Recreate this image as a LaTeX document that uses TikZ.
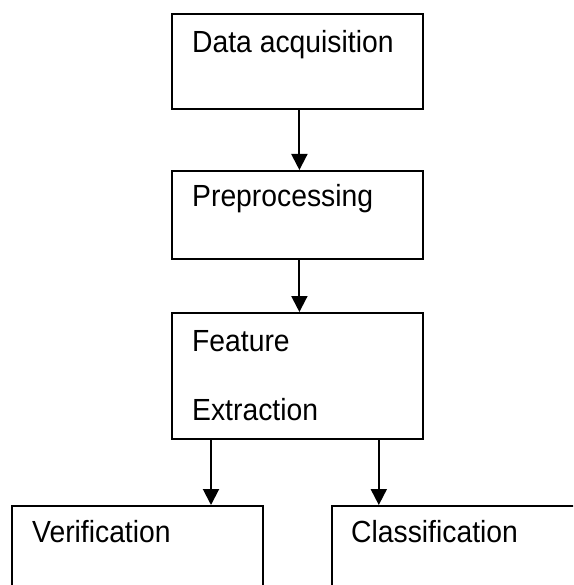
\documentclass[tikz,border=0pt]{standalone}
\usepackage{fontspec}
\usepackage{graphicx}
\setmainfont{Liberation Sans}
\usetikzlibrary{arrows.meta}
% slightly tall lettering for the stage names
\newcommand{\stagetext}[1]{\scalebox{1}[1.08]{#1}}
\begin{document}
\begin{tikzpicture}[x=1pt,y=-1pt,
  stagebox/.style={draw=black, line width=1.8pt, rectangle, anchor=north west,
    inner sep=0pt, minimum width=251pt},
  lbl/.style={anchor=base west, inner sep=0pt, font=\fontsize{28.3}{34}\selectfont},
  arr/.style={line width=2pt, -{Triangle[length=16pt,width=16pt]}}]
  \useasboundingbox (0,0) rectangle (573,585);
  \clip (0,0) rectangle (573,585);
  % processing stages
  \node[stagebox, minimum height=95pt]  (da)  at (171,13)  {};
  \node[stagebox, minimum height=88pt]  (pp)  at (171,170) {};
  \node[stagebox, minimum height=126pt] (fe)  at (171,312) {};
  \node[stagebox, minimum height=100pt] (ver) at (11,505)  {};
  \node[stagebox, minimum height=100pt, minimum width=260pt] (cls) at (331,505) {};
  % labels
  \node[lbl] (tda)  at (192,53)  {\stagetext{Data acquisition}};
  \node[lbl] (tpp)  at (192,207) {\stagetext{Preprocessing}};
  \node[lbl] (tfe1) at (192,351) {\stagetext{Feature}};
  \node[lbl] (tfe2) at (192,420) {\stagetext{Extraction}};
  \node[lbl] (tver) at (32,542)  {\stagetext{Verification}};
  \node[lbl] (tcls) at (351,542) {\stagetext{Classification}};
  % connectors
  \draw[arr] ([xshift=2pt]da.south) -- ([xshift=2pt]pp.north);
  \draw[arr] ([xshift=2pt]pp.south) -- ([xshift=2pt]fe.north);
  \draw[arr] ([xshift=40pt]fe.south west) -- ([xshift=40pt]fe.south west |- ver.north);
  \draw[arr] ([xshift=-45pt]fe.south east) -- ([xshift=-45pt]fe.south east |- cls.north);
\end{tikzpicture}
\end{document}
